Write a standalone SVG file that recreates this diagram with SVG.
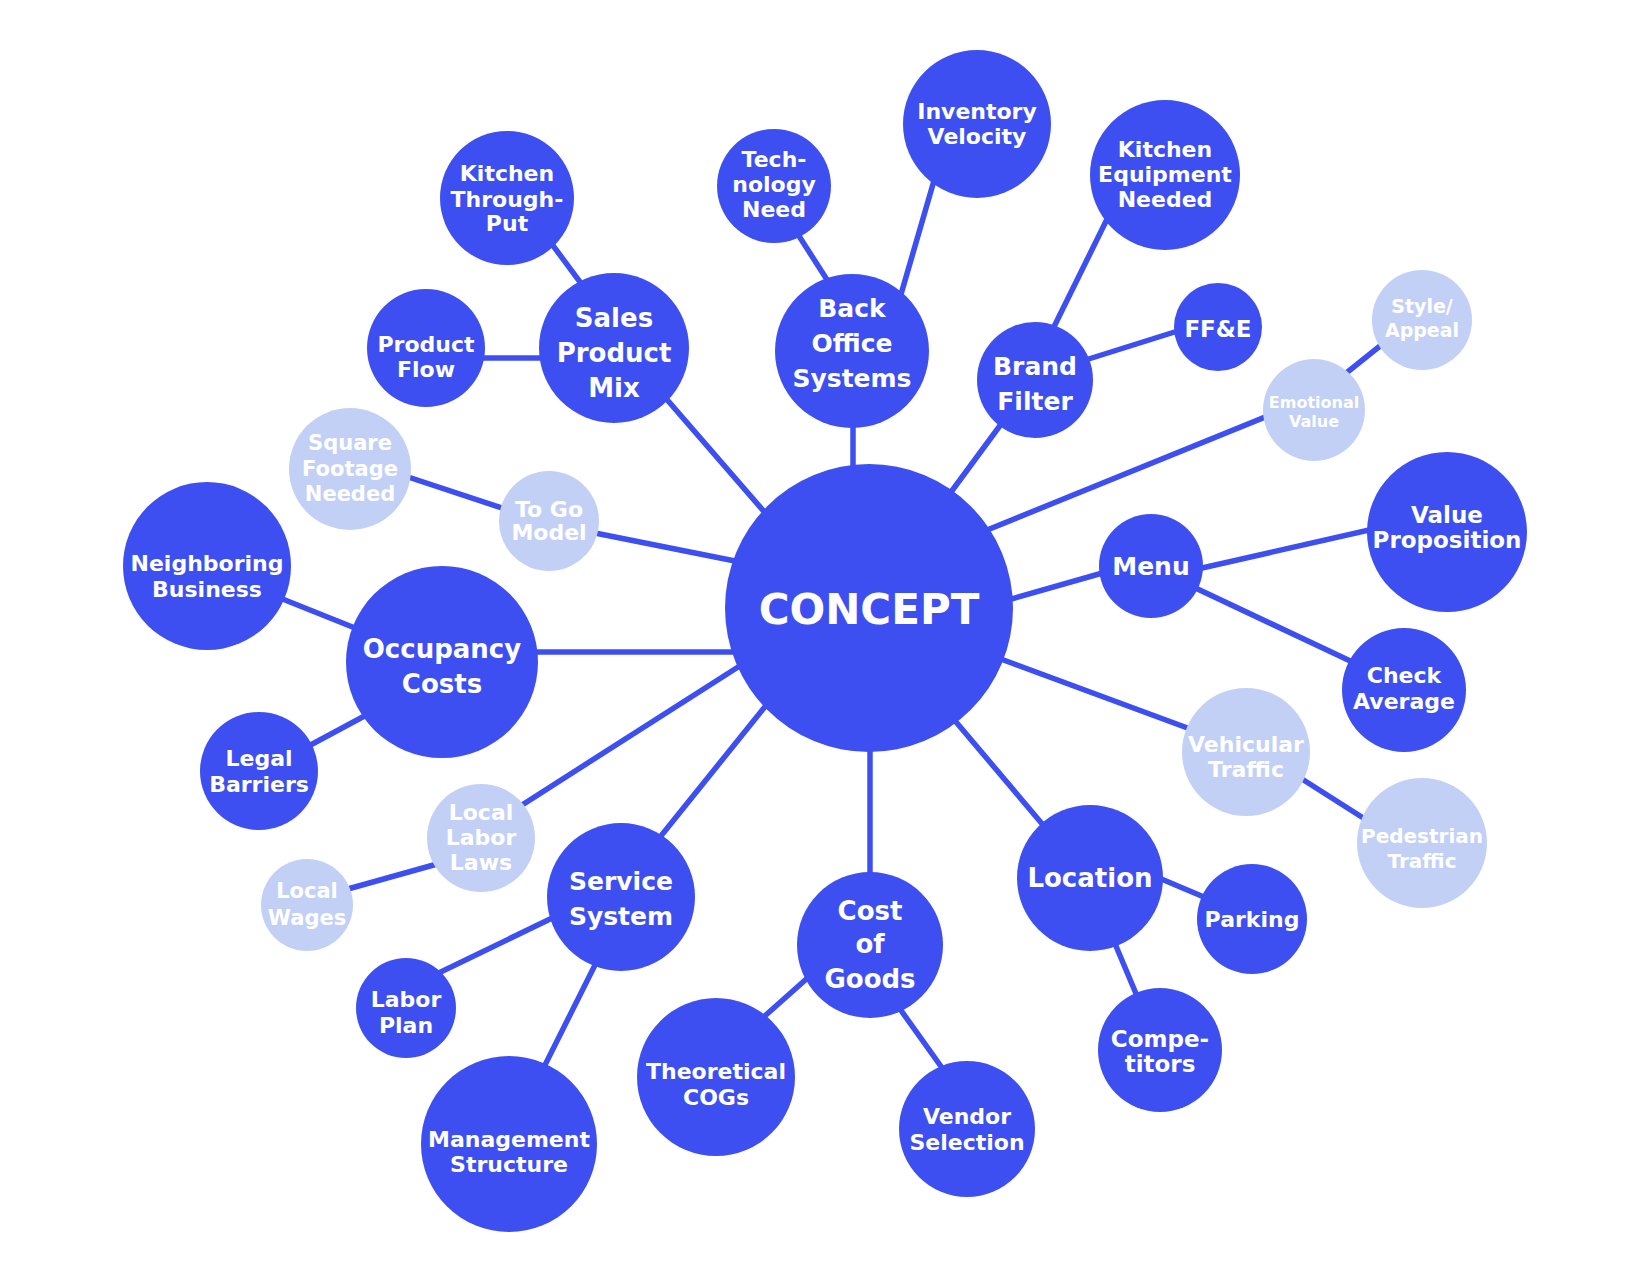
<svg xmlns="http://www.w3.org/2000/svg" width="1650" height="1275" viewBox="0 0 1650 1275">
<style>
.bg{fill:#ffffff}
.d{fill:#3d4ff0}
.l{fill:#c3d0f6}
.c line{stroke:#3d4ff0;stroke-width:5.5;stroke-linecap:butt}
text{font-family:"DejaVu Sans","Liberation Sans",sans-serif;font-weight:bold;fill:#ffffff;text-anchor:middle}
.s16{font-size:16px}.s19{font-size:19px}.s20{font-size:20px}.s21{font-size:21px}.s22{font-size:22px}.s23{font-size:23px}.s25{font-size:25px}.s26{font-size:26px}.s42{font-size:42px}
</style>
<rect class="bg" x="0" y="0" width="1650" height="1275"/>
<g id="connectors" class="c">
<line x1="540" y1="228" x2="600" y2="309"/>
<line x1="470" y1="358" x2="560" y2="358"/>
<line x1="650" y1="380" x2="780" y2="530"/>
<line x1="790" y1="222" x2="840" y2="300"/>
<line x1="940" y1="160" x2="895" y2="315"/>
<line x1="853" y1="400" x2="853" y2="500"/>
<line x1="1115" y1="203" x2="1045" y2="345"/>
<line x1="1200" y1="324" x2="1060" y2="368"/>
<line x1="1010" y1="412" x2="940" y2="507"/>
<line x1="1400" y1="330" x2="1330" y2="386"/>
<line x1="1290" y1="407" x2="960" y2="541"/>
<line x1="1120" y1="568" x2="990" y2="605"/>
<line x1="1180" y1="573" x2="1400" y2="523"/>
<line x1="1170" y1="576" x2="1380" y2="675"/>
<line x1="1220" y1="740" x2="990" y2="655"/>
<line x1="1280" y1="765" x2="1390" y2="835"/>
<line x1="1060" y1="845" x2="940" y2="703"/>
<line x1="1140" y1="870" x2="1230" y2="908"/>
<line x1="1105" y1="920" x2="1145" y2="1015"/>
<line x1="870" y1="720" x2="870" y2="900"/>
<line x1="830" y1="958" x2="740" y2="1038"/>
<line x1="885" y1="988" x2="955" y2="1086"/>
<line x1="640" y1="862" x2="780" y2="688"/>
<line x1="575" y1="907" x2="420" y2="982"/>
<line x1="605" y1="945" x2="535" y2="1085"/>
<line x1="500" y1="819" x2="760" y2="653"/>
<line x1="455" y1="859" x2="330" y2="894"/>
<line x1="520" y1="652" x2="760" y2="652"/>
<line x1="260" y1="590" x2="380" y2="638"/>
<line x1="290" y1="756" x2="385" y2="705"/>
<line x1="580" y1="530" x2="760" y2="566"/>
<line x1="390" y1="471" x2="520" y2="514"/>
</g>
<g id="concept"><circle class="d" cx="869" cy="608" r="144"/><text class="s42" x="869" y="624">CONCEPT</text></g>
<g id="kitchen-throughput"><circle class="d" cx="507" cy="198" r="67"/><text class="s22" x="507"><tspan x="507" y="181">Kitchen</tspan><tspan x="507" y="207">Through-</tspan><tspan x="507" y="231">Put</tspan></text></g>
<g id="product-flow"><circle class="d" cx="426" cy="348" r="59"/><text class="s22"><tspan x="426" y="352">Product</tspan><tspan x="426" y="377">Flow</tspan></text></g>
<g id="sales-product-mix"><circle class="d" cx="614" cy="348" r="75"/><text class="s26"><tspan x="614" y="327">Sales</tspan><tspan x="614" y="362">Product</tspan><tspan x="614" y="397">Mix</tspan></text></g>
<g id="technology-need"><circle class="d" cx="774" cy="186" r="57"/><text class="s22"><tspan x="774" y="167">Tech-</tspan><tspan x="774" y="192">nology</tspan><tspan x="774" y="217">Need</tspan></text></g>
<g id="back-office"><circle class="d" cx="852" cy="351" r="77"/><text class="s25"><tspan x="852" y="317">Back</tspan><tspan x="852" y="352">Office</tspan><tspan x="852" y="387">Systems</tspan></text></g>
<g id="inventory-velocity"><circle class="d" cx="977" cy="124" r="74"/><text class="s22"><tspan x="977" y="119">Inventory</tspan><tspan x="977" y="144">Velocity</tspan></text></g>
<g id="kitchen-equipment"><circle class="d" cx="1165" cy="175" r="75"/><text class="s22"><tspan x="1165" y="157">Kitchen</tspan><tspan x="1165" y="182">Equipment</tspan><tspan x="1165" y="207">Needed</tspan></text></g>
<g id="brand-filter"><circle class="d" cx="1035" cy="380" r="58"/><text class="s25"><tspan x="1035" y="375">Brand</tspan><tspan x="1035" y="410">Filter</tspan></text></g>
<g id="ffe"><circle class="d" cx="1218" cy="327" r="44"/><text class="s23" x="1218" y="337">FF&amp;E</text></g>
<g id="style-appeal"><circle class="l" cx="1422" cy="320" r="50"/><text class="s19"><tspan x="1422" y="313">Style/</tspan><tspan x="1422" y="337">Appeal</tspan></text></g>
<g id="emotional-value"><circle class="l" cx="1314" cy="410" r="51"/><text class="s16"><tspan x="1314" y="408">Emotional</tspan><tspan x="1314" y="427">Value</tspan></text></g>
<g id="value-proposition"><circle class="d" cx="1447" cy="532" r="80"/><text class="s23"><tspan x="1447" y="523">Value</tspan><tspan x="1447" y="548">Proposition</tspan></text></g>
<g id="menu"><circle class="d" cx="1151" cy="566" r="52"/><text class="s25" x="1151" y="575">Menu</text></g>
<g id="check-average"><circle class="d" cx="1404" cy="690" r="62"/><text class="s22"><tspan x="1404" y="683">Check</tspan><tspan x="1404" y="709">Average</tspan></text></g>
<g id="vehicular-traffic"><circle class="l" cx="1246" cy="752" r="64"/><text class="s22"><tspan x="1246" y="752">Vehicular</tspan><tspan x="1246" y="777">Traffic</tspan></text></g>
<g id="pedestrian-traffic"><circle class="l" cx="1422" cy="843" r="65"/><text class="s20"><tspan x="1422" y="843">Pedestrian</tspan><tspan x="1422" y="868">Traffic</tspan></text></g>
<g id="parking"><circle class="d" cx="1252" cy="919" r="55"/><text class="s22" x="1252" y="927">Parking</text></g>
<g id="location"><circle class="d" cx="1090" cy="878" r="73"/><text class="s26" x="1090" y="887">Location</text></g>
<g id="competitors"><circle class="d" cx="1160" cy="1050" r="62"/><text class="s23"><tspan x="1160" y="1047">Compe-</tspan><tspan x="1160" y="1072">titors</tspan></text></g>
<g id="cost-of-goods"><circle class="d" cx="870" cy="945" r="73"/><text class="s26"><tspan x="870" y="920">Cost</tspan><tspan x="870" y="953">of</tspan><tspan x="870" y="988">Goods</tspan></text></g>
<g id="vendor-selection"><circle class="d" cx="967" cy="1129" r="68"/><text class="s22"><tspan x="967" y="1124">Vendor</tspan><tspan x="967" y="1150">Selection</tspan></text></g>
<g id="theoretical-cogs"><circle class="d" cx="716" cy="1077" r="79"/><text class="s22"><tspan x="716" y="1079">Theoretical</tspan><tspan x="716" y="1105">COGs</tspan></text></g>
<g id="management-structure"><circle class="d" cx="509" cy="1144" r="88"/><text class="s22"><tspan x="509" y="1147">Management</tspan><tspan x="509" y="1172">Structure</tspan></text></g>
<g id="labor-plan"><circle class="d" cx="406" cy="1008" r="50"/><text class="s22"><tspan x="406" y="1007">Labor</tspan><tspan x="406" y="1033">Plan</tspan></text></g>
<g id="service-system"><circle class="d" cx="621" cy="897" r="74"/><text class="s25"><tspan x="621" y="890">Service</tspan><tspan x="621" y="925">System</tspan></text></g>
<g id="local-wages"><circle class="l" cx="307" cy="905" r="46"/><text class="s21"><tspan x="307" y="898">Local</tspan><tspan x="307" y="925">Wages</tspan></text></g>
<g id="local-labor-laws"><circle class="l" cx="481" cy="838" r="54"/><text class="s22"><tspan x="481" y="820">Local</tspan><tspan x="481" y="845">Labor</tspan><tspan x="481" y="870">Laws</tspan></text></g>
<g id="legal-barriers"><circle class="d" cx="259" cy="771" r="59"/><text class="s22"><tspan x="259" y="766">Legal</tspan><tspan x="259" y="792">Barriers</tspan></text></g>
<g id="occupancy-costs"><circle class="d" cx="442" cy="662" r="96"/><text class="s26"><tspan x="442" y="658">Occupancy</tspan><tspan x="442" y="693">Costs</tspan></text></g>
<g id="neighboring-business"><circle class="d" cx="207" cy="566" r="84"/><text class="s22"><tspan x="207" y="571">Neighboring</tspan><tspan x="207" y="597">Business</tspan></text></g>
<g id="square-footage"><circle class="l" cx="350" cy="469" r="61"/><text class="s21"><tspan x="350" y="450">Square</tspan><tspan x="350" y="476">Footage</tspan><tspan x="350" y="501">Needed</tspan></text></g>
<g id="to-go-model"><circle class="l" cx="549" cy="521" r="50"/><text class="s22"><tspan x="549" y="517">To Go</tspan><tspan x="549" y="540">Model</tspan></text></g>
</svg>
